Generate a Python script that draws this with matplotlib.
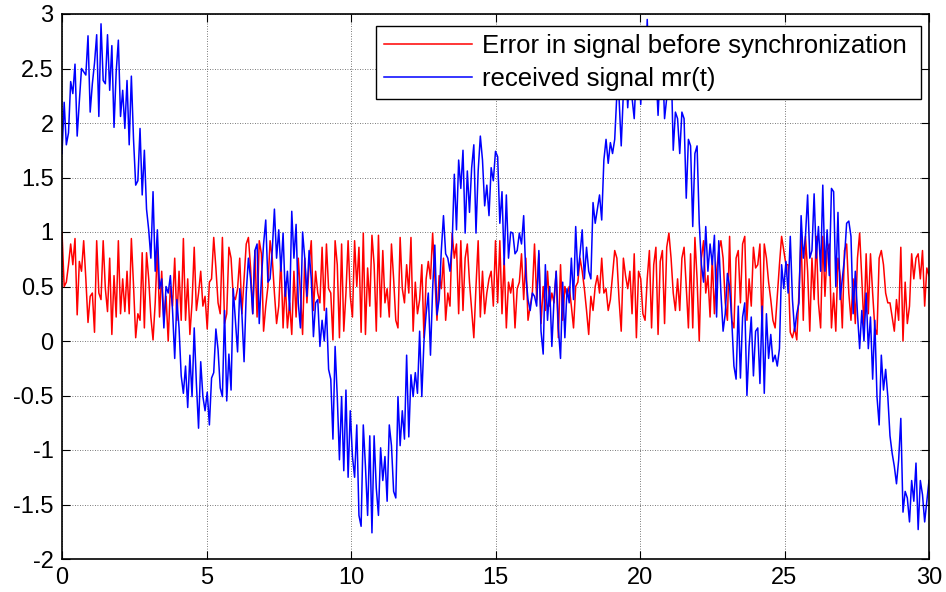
import numpy as np
import matplotlib
matplotlib.use("Agg")
import matplotlib.pyplot as plt
from matplotlib.ticker import FixedLocator, FuncFormatter

# sampling period of both signals (seconds)
dt = 0.075

# error in signal before synchronization
error_signal = [
    1.00, 0.50, 0.54, 0.70, 0.89, 0.70, 0.94, 0.24, 0.73, 0.64,
    0.92, 0.57, 0.17, 0.41, 0.44, 0.08, 0.92, 0.44, 0.38, 0.92,
    0.48, 0.27, 0.76, 0.06, 0.60, 0.22, 0.92, 0.25, 0.57, 0.27,
    0.64, 0.25, 0.94, 0.51, 0.03, 0.25, 0.19, 0.81, 0.12, 0.81,
    0.57, 0.22, 0.01, 0.35, 0.86, 0.22, 0.64, 0.19, 0.41, 0.00,
    0.50, 0.32, 0.76, 0.19, 0.64, 0.19, 0.94, 0.19, 0.57, 0.06,
    0.35, 0.86, 0.28, 0.44, 0.64, 0.32, 0.41, 0.11, 0.54, 0.57,
    0.95, 0.67, 0.35, 0.25, 0.95, 0.16, 0.25, 0.86, 0.76, 0.41,
    0.38, 0.48, 0.76, 0.25, 0.57, 0.89, 0.95, 0.67, 0.25, 0.83,
    0.22, 0.92, 0.80, 0.09, 0.32, 0.50, 0.92, 0.76, 0.44, 0.16,
    0.32, 0.76, 0.12, 0.54, 0.12, 0.35, 0.06, 0.64, 0.22, 0.76,
    0.44, 0.06, 0.76, 0.35, 0.70, 0.92, 0.28, 0.64, 0.44, 0.35,
    0.86, 0.28, 0.89, 0.48, 0.44, 0.01, 0.92, 0.70, 0.03, 0.89,
    0.09, 0.44, 0.92, 0.41, 0.22, 0.92, 0.50, 0.86, 0.08, 0.99,
    0.06, 0.67, 0.32, 0.97, 0.70, 0.09, 0.97, 0.22, 0.83, 0.35,
    0.48, 0.22, 0.89, 0.57, 0.19, 0.12, 0.95, 0.48, 0.35, 0.70,
    0.44, 0.95, 0.09, 0.54, 0.25, 0.38, 0.70, 0.03, 0.57, 0.73,
    0.57, 0.99, 0.60, 0.19, 0.60, 0.48, 0.76, 0.19, 0.44, 0.32,
    0.99, 0.76, 0.89, 0.25, 0.92, 0.28, 0.76, 0.89, 0.54, 0.28,
    0.03, 0.50, 0.92, 0.22, 0.64, 0.25, 0.44, 0.57, 0.64, 0.32,
    0.92, 0.35, 0.92, 0.25, 0.76, 0.12, 0.54, 0.44, 0.57, 0.12,
    0.48, 0.54, 0.80, 0.38, 0.76, 0.19, 0.32, 0.44, 0.89, 0.38,
    0.80, 0.16, 0.50, 0.28, 0.64, 0.32, 0.44, 0.35, 0.64, 0.03,
    0.70, 0.19, 0.50, 0.41, 0.50, 0.32, 0.12, 0.50, 0.54, 0.76,
    0.64, 0.48, 0.28, 0.06, 0.41, 0.28, 0.50, 0.60, 0.44, 0.76,
    0.44, 0.48, 0.28, 0.38, 0.60, 0.83, 0.76, 0.38, 0.09, 0.76,
    0.60, 0.48, 0.64, 0.25, 0.80, 0.03, 0.64, 0.57, 0.25, 0.19,
    0.57, 0.83, 0.12, 0.70, 0.86, 0.06, 0.73, 0.83, 0.16, 0.86,
    0.99, 0.76, 0.44, 0.28, 0.57, 0.28, 0.76, 0.86, 0.50, 0.12,
    0.80, 0.12, 0.95, 0.57, 0.00, 0.76, 0.92, 0.44, 0.60, 0.22,
    0.76, 0.25, 0.64, 0.83, 0.92, 0.76, 0.35, 0.19, 0.96, 0.19,
    0.12, 0.76, 0.83, 0.35, 0.89, 0.96, 0.19, 0.57, 0.32, 0.86,
    0.67, 0.70, 0.89, 0.09, 0.89, 0.76, 0.54, 0.38, 0.19, 0.12,
    0.41, 0.70, 0.96, 0.83, 0.70, 0.70, 0.08, 0.03, 0.12, 0.01,
    0.44, 0.96, 0.19, 0.96, 0.64, 0.09, 0.76, 0.38, 0.96, 0.35,
    0.12, 0.96, 0.41, 0.83, 0.89, 0.12, 0.44, 0.09, 0.76, 0.60,
    0.12, 0.83, 0.89, 0.44, 0.19, 0.57, 0.16, 0.76, 0.99, 0.57,
    0.12, 0.80, 0.25, 0.80, 0.44, 0.12, 0.06, 0.76, 0.83, 0.70,
    0.44, 0.35, 0.35, 0.22, 0.09, 0.38, 0.19, 0.86, 0.00, 0.54,
    0.16, 0.32, 0.80, 0.57, 0.76, 0.80, 0.57, 0.83, 0.32, 0.67,
    0.60,
]

# received signal mr(t)
received_signal = [
    1.72, 2.19, 1.80, 1.91, 2.38, 2.27, 2.54, 1.88, 2.20, 2.50,
    2.47, 2.44, 2.80, 2.10, 2.36, 2.55, 2.81, 2.06, 2.91, 2.39,
    2.36, 2.81, 2.30, 2.71, 1.96, 2.47, 2.76, 2.06, 2.30, 1.95,
    2.39, 1.80, 2.43, 1.85, 1.43, 1.47, 1.95, 1.34, 1.75, 1.21,
    1.02, 0.76, 1.37, 0.64, 1.02, 0.48, 0.57, 0.12, 0.50, 0.44,
    0.60, 0.28, -0.16, 0.38, 0.12, -0.32, -0.48, -0.23, -0.61, -0.13,
    -0.51, 0.12, -0.39, -0.80, -0.19, -0.51, -0.64, -0.47, -0.77, -0.34,
    -0.29, 0.11, -0.08, -0.43, -0.51, 0.28, -0.55, -0.12, -0.45, 0.48,
    0.19, -0.10, 0.48, 0.25, -0.19, 0.44, 0.76, 0.57, 0.25, 0.83,
    0.89, 0.16, 0.57, 0.89, 1.11, 0.54, 0.57, 0.83, 1.21, 0.76,
    1.02, 0.64, 0.99, 0.41, 0.64, 0.28, 1.19, 0.76, 1.07, 0.35,
    0.12, 1.00, 0.76, 0.41, 0.83, 0.57, 0.04, 0.35, 0.38, -0.05,
    0.19, 0.00, 0.30, -0.26, -0.35, -0.90, -0.05, -0.51, -1.09, -0.51,
    -1.19, -0.45, -1.25, -0.64, -1.06, -1.25, -0.77, -1.60, -1.70, -0.77,
    -1.15, -1.60, -0.87, -1.76, -0.87, -1.35, -1.60, -0.98, -1.28, -1.06,
    -1.47, -0.77, -0.96, -1.38, -1.44, -0.51, -0.96, -0.64, -0.90, -0.13,
    -0.88, -0.31, -0.51, -0.29, -0.48, 0.09, -0.51, 0.00, 0.25, 0.44,
    -0.13, 0.48, 0.88, 0.24, 0.38, 0.83, 1.15, 0.80, 0.76, 0.64,
    0.89, 1.53, 1.02, 1.66, 1.40, 1.75, 0.99, 1.56, 1.18, 1.59,
    1.80, 0.99, 1.56, 1.88, 1.66, 1.24, 1.43, 1.15, 1.59, 1.47,
    1.74, 1.69, 1.08, 1.37, 0.70, 1.34, 0.76, 1.00, 0.99, 0.80,
    0.83, 0.99, 0.89, 1.15, 0.60, 0.38, 0.28, 0.44, 0.41, 0.32,
    0.83, 0.09, -0.12, 0.70, 0.19, 0.50, -0.05, 0.38, 0.64, 0.12,
    -0.16, 0.54, 0.03, 0.48, 0.35, 0.76, 0.38, 1.05, 0.60, 0.80,
    1.02, 0.57, 0.86, 0.64, 0.57, 1.27, 1.08, 1.21, 1.34, 1.11,
    1.66, 1.85, 1.63, 1.82, 1.72, 1.85, 2.27, 2.23, 1.79, 2.28,
    2.60, 2.14, 2.50, 2.23, 2.04, 2.50, 2.70, 2.17, 2.60, 2.23,
    2.95, 2.40, 2.70, 2.30, 2.50, 2.07, 2.50, 2.60, 2.04, 2.23,
    2.50, 2.60, 1.75, 2.10, 2.04, 1.72, 2.10, 2.04, 1.31, 1.85,
    1.79, 1.05, 1.72, 1.79, 1.08, 0.70, 0.54, 1.05, 0.64, 0.89,
    0.70, 0.97, 0.22, 0.92, 0.44, 0.09, 0.25, 0.62, 0.50, 0.19,
    -0.23, -0.35, 0.32, -0.34, 0.22, 0.35, -0.50, -0.05, 0.22, -0.32,
    0.09, 0.12, -0.39, 0.32, -0.48, 0.25, -0.16, 0.06, -0.19, -0.13,
    -0.23, -0.07, 0.70, 0.48, 0.73, 0.44, 0.96, 0.38, 0.09, 0.25,
    0.35, 1.15, 0.76, 0.96, 1.34, 0.76, 0.83, 1.35, 0.76, 1.05,
    0.64, 1.43, 0.64, 1.02, 0.60, 1.40, 1.37, 0.50, 1.18, 0.38,
    0.57, 0.76, 1.08, 1.10, 0.96, 0.25, 0.64, 0.25, -0.07, 0.28,
    0.00, 0.44, -0.07, 0.22, -0.35, 0.19, -0.51, -0.77, -0.13, -0.45,
    -0.26, -0.51, -0.87, -1.03, -1.15, -1.31, -1.09, -0.71, -1.57, -1.38,
    -1.44, -1.66, -1.28, -1.47, -1.12, -1.73, -1.28, -1.41, -1.66, -1.47,
    -1.28,
]

x_ticks = [0, 5, 10, 15, 20, 25, 30]
y_ticks = [-2, -1.5, -1, -0.5, 0, 0.5, 1, 1.5, 2, 2.5, 3]
series_labels = ["Error in signal before synchronization", "received signal mr(t)"]

t = np.arange(len(received_signal)) * dt

plt.rcParams["font.family"] = ["Liberation Sans", "DejaVu Sans"]

fig = plt.figure(figsize=(9.46, 5.92), dpi=100)
ax = fig.add_axes([62 / 946, 1 - 559 / 592, 867 / 946, 545 / 592])

ax.plot(t, error_signal, color="#ff0000", lw=1.1, label=series_labels[0])
ax.plot(t, received_signal, color="#0000ff", lw=1.1, label=series_labels[1])

ax.set_xlim(0, 30)
ax.set_ylim(-2, 3)
ax.xaxis.set_major_locator(FixedLocator(x_ticks))
ax.yaxis.set_major_locator(FixedLocator(y_ticks))
ax.xaxis.set_major_formatter(FuncFormatter(lambda v, p: f"{v:g}"))
ax.yaxis.set_major_formatter(FuncFormatter(lambda v, p: f"{v:g}"))

ax.grid(True, color="0.3", linestyle=(0, (1, 2)), linewidth=0.6)
ax.tick_params(direction="in", length=6, width=0.8, top=True, right=True,
               labelsize=17, pad=6, colors="black")
for s in ax.spines.values():
    s.set_linewidth(1.2)
    s.set_color("black")

# legend box stretched across the upper right part of the axes
leg = ax.legend(loc="upper left", bbox_to_anchor=(0.3622, 0.978, 0.6286, 0.0),
                mode="expand", borderaxespad=0, fontsize=18.5, frameon=True,
                fancybox=False, edgecolor="black", framealpha=1,
                handlelength=3.42, handletextpad=0.39, borderpad=0.3,
                labelspacing=0.36)
leg.get_frame().set_linewidth(1.0)

fig.savefig("out.png", dpi=100)
